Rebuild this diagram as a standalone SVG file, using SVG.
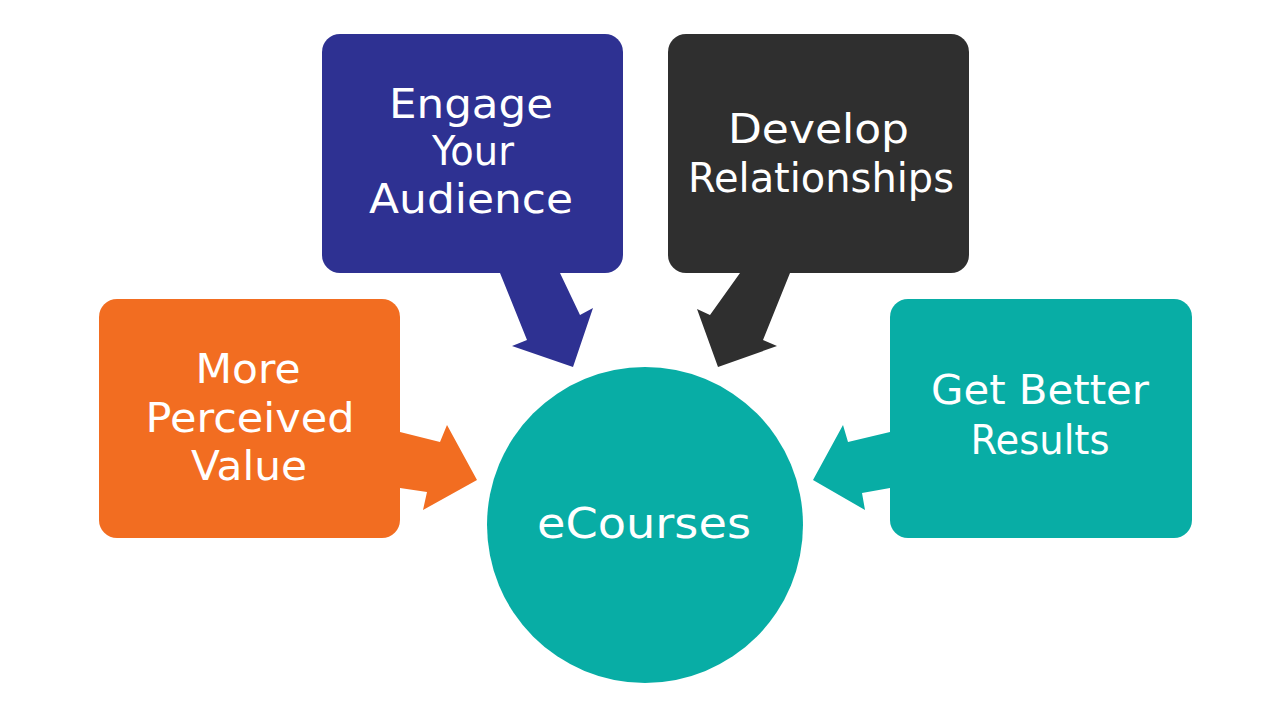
<svg xmlns="http://www.w3.org/2000/svg" width="1280" height="720" viewBox="0 0 1280 720">
<style>
.t{font-family:"DejaVu Sans","Liberation Sans",sans-serif;font-size:40px;fill:#ffffff;text-anchor:middle}
.big{font-size:42px}
</style>
<rect width="1280" height="720" fill="#ffffff"/>
<g id="connectors">
<polygon fill="#2E3192" points="500,273 560,273 580,315 593,308 573,367 512,346 527,340"/>
<polygon fill="#2F2F2F" points="740,273 790,273 763,340 777,346 718,367 697,309 710,315"/>
<polygon fill="#F26D21" points="400,432 440,442 447,425 477,480 423,510 427,492 400,488"/>
<polygon fill="#08ADA5" points="890,432 848,442 843,425 813,480 865,510 862,493 890,488"/>
</g>
<g id="engage">
<rect x="322" y="34" width="301" height="239" rx="18" fill="#2E3192"/>
<text class="t" x="471" y="118" textLength="164" lengthAdjust="spacingAndGlyphs">Engage</text>
<text class="t" x="473" y="165" textLength="82" lengthAdjust="spacingAndGlyphs">Your</text>
<text class="t" x="471" y="213" textLength="204" lengthAdjust="spacingAndGlyphs">Audience</text>
</g>
<g id="develop">
<rect x="668" y="34" width="301" height="239" rx="18" fill="#2F2F2F"/>
<text class="t" x="818.5" y="143" textLength="181" lengthAdjust="spacingAndGlyphs">Develop</text>
<text class="t" x="821" y="192" textLength="266" lengthAdjust="spacingAndGlyphs">Relationships</text>
</g>
<g id="value">
<rect x="99" y="299" width="301" height="239" rx="18" fill="#F26D21"/>
<text class="t" x="248" y="383" textLength="105" lengthAdjust="spacingAndGlyphs">More</text>
<text class="t" x="250" y="432" textLength="209" lengthAdjust="spacingAndGlyphs">Perceived</text>
<text class="t" x="249" y="480" textLength="116" lengthAdjust="spacingAndGlyphs">Value</text>
</g>
<g id="results">
<rect x="890" y="299" width="302" height="239" rx="18" fill="#08ADA5"/>
<text class="t" x="1040" y="404" textLength="218" lengthAdjust="spacingAndGlyphs">Get Better</text>
<text class="t" x="1040" y="454" textLength="139" lengthAdjust="spacingAndGlyphs">Results</text>
</g>
<g id="ecourses">
<circle cx="645" cy="525" r="158" fill="#08ADA5"/>
<text class="t big" x="644" y="538" textLength="214" lengthAdjust="spacingAndGlyphs">eCourses</text>
</g>
</svg>
